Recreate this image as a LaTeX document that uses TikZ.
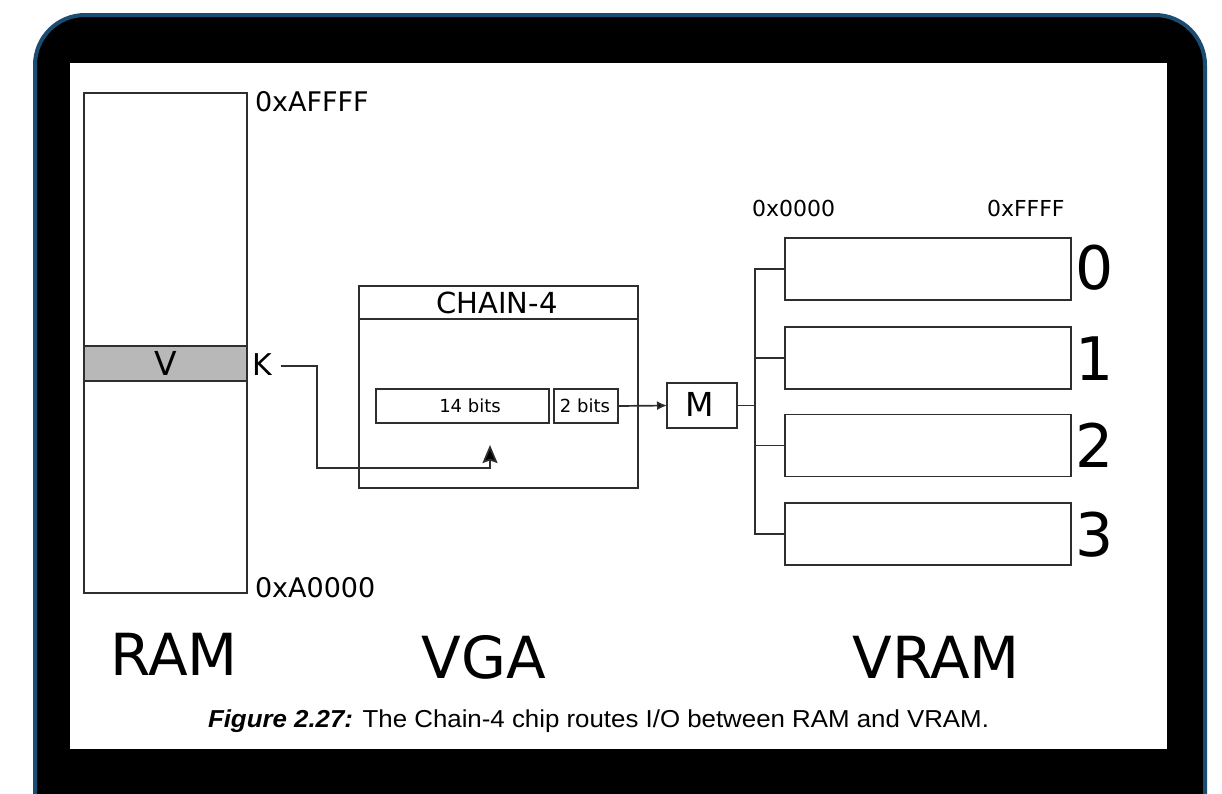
\documentclass[tikz,border=0pt]{standalone}
\usepackage{fontspec}
\setmainfont{DejaVu Sans}
\newfontfamily\capfont{Liberation Sans}
\usetikzlibrary{arrows.meta}
\definecolor{frameblue}{HTML}{1B4C72}
\definecolor{bandgray}{HTML}{B8B8B8}
\definecolor{linec}{HTML}{2E2E2E}
\tikzset{
  box/.style={draw=linec, line width=1.7pt, fill=white, rectangle, inner sep=0pt, outer sep=0pt},
  wire/.style={draw=linec, line width=1.7pt},
  lbl/.style={inner sep=0pt, outer sep=0pt, text=black},
}
\newcommand{\fs}[1]{\fontsize{#1}{#1}\selectfont}
\begin{document}
\begin{tikzpicture}[x=1pt,y=-1pt]
\useasboundingbox (0,0) rectangle (1222,793);
\clip (0,0) rectangle (1222,793);
\fill[white] (0,0) rectangle (1222,793);
% frame
\draw[fill=black, draw=frameblue, line width=4pt, rounded corners=50pt] (35,15) rectangle (1205,900);
\fill[white] (70,63) rectangle (1167,749);

% RAM
\node[box, minimum width=163pt, minimum height=500pt] (ram) at (165.5,343) {};
\node[box, fill=bandgray, minimum width=163pt, minimum height=35pt] (band) at (165.5,363.5) {};
\node[lbl, anchor=base, font=\fs{33}] (v) at (165.5,375) {V};
\node[lbl, anchor=base west, font=\fs{27}] (atop) at (255,111) {0xAFFFF};
\node[lbl, anchor=base west, font=\fs{27}] (abot) at (255,597) {0xA0000};
\node[lbl, anchor=base west, font=\fs{30}] (k) at (252,375) {K};

% CHAIN-4
\node[box, minimum width=279pt, minimum height=202pt] (chain) at (498.5,387) {};
\node[box, minimum width=279pt, minimum height=33pt] (chainhead) at (498.5,302.5) {};
\node[lbl, anchor=base, font=\fs{29}] (chaint) at (497,313.5) {CHAIN-4};
\node[box, minimum width=173pt, minimum height=34pt] (b14) at (462.5,406) {};
\node[lbl, anchor=base, font=\fs{18}] (b14t) at (470,412) {14 bits};
\node[box, minimum width=64pt, minimum height=34pt] (b2) at (586,406) {};
\node[lbl, anchor=base, font=\fs{18}] (b2t) at (585,412) {2 bits};
\coordinate (kin) at (490,445);

% M
\node[box, minimum width=70pt, minimum height=45pt] (m) at (702,405.5) {};
\node[lbl, anchor=base, font=\fs{33}] (mt) at (700,416) {M};

% VRAM
\node[box, minimum width=286pt, minimum height=62pt] (v0) at (928,269) {};
\node[box, minimum width=286pt, minimum height=62pt] (v1) at (928,358) {};
\node[box, minimum width=286pt, minimum height=62pt] (v2) at (928,445.5) {};
\node[box, minimum width=286pt, minimum height=62pt] (v3) at (928,534) {};
\node[lbl, anchor=base west, font=\fs{60}] (n0) at (1075,289) {0};
\node[lbl, anchor=base west, font=\fs{60}] (n1) at (1075,380) {1};
\node[lbl, anchor=base west, font=\fs{60}] (n2) at (1075,467) {2};
\node[lbl, anchor=base west, font=\fs{60}] (n3) at (1075,556) {3};
\node[lbl, anchor=base west, font=\fs{22}] (lo) at (752,216) {0x0000};
\node[lbl, anchor=base west, font=\fs{22}] (hi) at (987,216) {0xFFFF};
\coordinate (bus) at (755,405.5);

% connectors
\draw[wire, -{Stealth[length=18pt,width=15pt,inset=2.5pt,fill=black]}] ([xshift=9pt]k.east |- 0,366) -- (317,366) -- (317,468) -- (kin |- 0,468) -- (kin);
\draw[wire, -{Latex[length=10pt,width=9pt,fill=black]}] (b2.east) -- (m.west);
\draw[wire] (m.east) -- (bus);
\draw[wire] (v0.west) -- (v0.west -| bus) -- (v3.west -| bus) -- (v3.west);
\draw[wire] (v1.west) -- (v1.west -| bus);
\draw[wire] (v2.west) -- (v2.west -| bus);

% section labels
\node[lbl, anchor=base, font=\fs{58}] (ramt) at (174,675) {RAM};
\node[lbl, anchor=base, font=\fs{58}] (vgat) at (484,678) {VGA};
\node[lbl, anchor=base, font=\fs{58}] (vramt) at (936,678) {VRAM};

% caption
\node[lbl, anchor=base west, font=\capfont\fs{24.5}, xscale=1.055] (cap) at (208,727) {\textbf{\textit{Figure 2.27:}} The Chain-4 chip routes I/O between RAM and VRAM.};
\end{tikzpicture}
\end{document}
